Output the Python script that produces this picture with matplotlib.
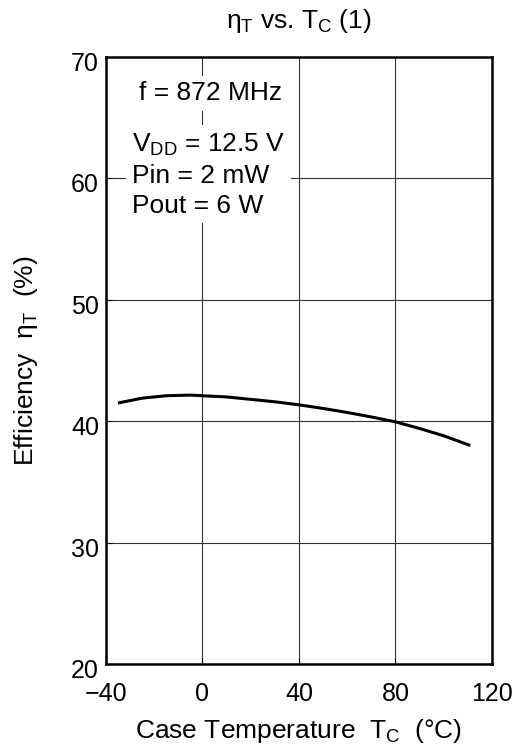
import matplotlib.pyplot as plt
import matplotlib.transforms as mtransforms
import numpy as np

plt.rcParams["font.family"] = ["Liberation Sans", "DejaVu Sans"]
plt.rcParams["mathtext.fontset"] = "custom"
plt.rcParams["mathtext.rm"] = "Liberation Sans"
plt.rcParams["mathtext.it"] = "Liberation Sans:italic"
plt.rcParams["mathtext.bf"] = "Liberation Sans:bold"

# efficiency vs case temperature
temp_c = [-35, -25, -15, -5, 0, 10, 20, 30, 40, 50, 60, 70, 80, 90, 100, 111]
eff_pct = [41.5, 41.9, 42.1, 42.15, 42.1, 42.0, 41.8, 41.6, 41.35, 41.05, 40.72,
           40.35, 39.95, 39.4, 38.8, 38.0]

x_ticks = [-40, 0, 40, 80, 120]
y_ticks = [20, 30, 40, 50, 60, 70]

fig = plt.figure(figsize=(5.15, 7.55), dpi=100)
ax = fig.add_axes([0.2058, 0.1205, 0.7495, 0.804])

ax.plot(temp_c, eff_pct, color="black", lw=2.2, solid_capstyle="butt", zorder=3)

ax.set_xlim(-40, 120)
ax.set_ylim(20, 70)
ax.set_xticks(x_ticks)
ax.set_yticks(y_ticks)
ax.grid(True, color="#333333", lw=0.8)
ax.set_axisbelow(True)
ax.tick_params(direction="in", length=4, width=0.8, labelsize=18)
ax.tick_params(axis="x", pad=13)
ax.tick_params(axis="y", pad=5)
for s in ax.spines.values():
    s.set_linewidth(1.8)

# y tick labels sit a little below their gridlines in the original
shift = mtransforms.ScaledTranslation(0, -4.5 / 72 * 0.72, fig.dpi_scale_trans)
for lab in ax.get_yticklabels():
    lab.set_transform(lab.get_transform() + shift)

ax.set_title(r"η$_\mathrm{T}$ vs. T$_\mathrm{C}$ (1)", fontsize=19, pad=21)
ax.set_xlabel(r"Case Temperature  T$_\mathrm{C}$  (°C)", fontsize=19, labelpad=8)
ax.set_ylabel(r"Efficiency  η$_\mathrm{T}$  (%)", fontsize=19, labelpad=22)

box = dict(facecolor="white", edgecolor="none", pad=4)
ax.text(33, 67.0, "f = 872 MHz", ha="right", va="center", fontsize=19,
        bbox=box, zorder=4)
ax.text(-29.3, 60.3, "V$_\\mathrm{DD}$ = 12.5 V\nPin = 2 mW\nPout = 6 W",
        ha="left", va="center", fontsize=19, linespacing=1.3,
        bbox=box, zorder=4)

fig.savefig("out.png", dpi=100)
